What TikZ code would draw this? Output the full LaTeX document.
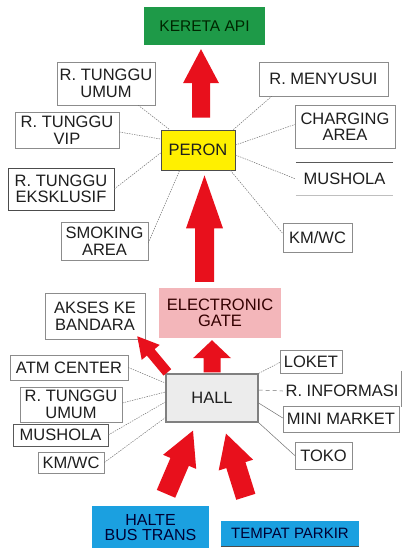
\documentclass[tikz,border=0pt]{standalone}
\usepackage{fontspec}
\setmainfont{Liberation Sans}
\usetikzlibrary{calc}
\definecolor{kgreen}{RGB}{30,154,72}
\definecolor{kyellow}{RGB}{255,240,0}
\definecolor{kpink}{RGB}{243,182,186}
\definecolor{kblue}{RGB}{27,160,224}
\definecolor{kred}{RGB}{232,16,28}
\definecolor{khall}{RGB}{236,236,236}
\definecolor{ktext}{RGB}{30,30,30}
\tikzset{
  box/.style={rectangle, inner sep=0pt, align=center, text=ktext,
    font=\fontsize{16.5}{16.5}\selectfont},
  sat/.style={box, draw=black!45, line width=0.5pt},
  link/.style={draw=black!55, line width=0.5pt, dash pattern=on 1.4pt off 1.1pt},
}
\newcommand\blockarr[5]{%
  \path coordinate (hb) at ($(#2)!#5pt!(#1)$);
  \fill[kred] ($(#1)!#3pt!90:(#2)$) -- ($(hb)!#3pt!90:(#2)$) -- ($(hb)!#4pt!90:(#2)$)
    -- (#2) -- ($(hb)!#4pt!-90:(#2)$) -- ($(hb)!#3pt!-90:(#2)$) -- ($(#1)!#3pt!-90:(#2)$) -- cycle;
}
\begin{document}
\begin{tikzpicture}[x=1pt,y=-1pt]
\clip (0,0) rectangle (405,548);
\fill[white] (0,0) rectangle (405,548);

% main boxes
\node[box, fill=kgreen, text=black!85!green, minimum width=121, minimum height=38,
  font=\fontsize{15.5}{15.5}\selectfont] (kereta) at (204.5,26) {KERETA API};
\node[box, fill=kyellow, draw=black!70, line width=0.8pt, minimum width=74, minimum height=40] (peron) at (198,150) {PERON};
\node[box, fill=kpink, text=black!80!red, minimum width=122, minimum height=50] (egate) at (220,313) {ELECTRONIC\\GATE};
\node[box, fill=khall, draw=black!50, line width=1.2pt, minimum width=92, minimum height=48] (hall) at (212,398) {HALL};
\node[box, fill=kblue, text=black!80!blue, minimum width=117, minimum height=43,
  font=\fontsize{16}{15}\selectfont] (halte) at (150.5,527.5) {HALTE\\BUS TRANS};
\node[box, fill=kblue, text=black!80!blue, minimum width=138, minimum height=25,
  font=\fontsize{15}{15}\selectfont] (parkir) at (290,533.5) {TEMPAT PARKIR};
\draw[black!70, line width=0.8pt] (parkir.south west) -- (parkir.south east);

% peron satellites
\node[sat, minimum width=98, minimum height=43] (rtu1) at (106,83.5) {R. TUNGGU\\UMUM};
\node[sat, minimum width=129, minimum height=34] (menyusui) at (323.5,79) {R. MENYUSUI};
\node[sat, minimum width=104, minimum height=36] (vip) at (67,130) {R. TUNGGU\\VIP};
\node[sat, minimum width=100, minimum height=43] (charging) at (345,126.5) {CHARGING\\AREA};
\node[box, minimum width=97, minimum height=32] (mushola1) at (344.5,179) {MUSHOLA};
\draw[black!65, line width=0.8pt] (mushola1.north west) -- (mushola1.north east);
\draw[black!25, line width=0.5pt] (mushola1.south west) -- (mushola1.south east);
\node[sat, draw=black!70, minimum width=106, minimum height=42] (ekskl) at (61,189) {R. TUNGGU\\EKSKLUSIF};
\node[sat, minimum width=87, minimum height=38] (smoking) at (104.5,241) {SMOKING\\AREA};
\node[sat, minimum width=69, minimum height=29] (kmwc1) at (317.5,237.5) {KM/WC};

% hall satellites
\node[sat, minimum width=100, minimum height=46] (akses) at (95,316) {AKSES KE\\BANDARA};
\node[sat, minimum width=118, minimum height=25] (atm) at (69,367.5) {ATM CENTER};
\node[sat, minimum width=102, minimum height=35] (rtu2) at (71,404.5) {R. TUNGGU\\UMUM};
\node[sat, draw=black!65, minimum width=95, minimum height=22] (mushola2) at (60.5,435) {MUSHOLA};
\node[sat, minimum width=66, minimum height=21] (kmwc2) at (71,462.5) {KM/WC};
\node[sat, minimum width=62, minimum height=23] (loket) at (311,361.5) {LOKET};
\node[box, minimum width=118, minimum height=24] (rinfo) at (342,391) {R. INFORMASI};
\draw[black!45, line width=0.5pt] ($(rinfo.north east)+(0,-8)$) -- ($(rinfo.south east)+(0,4)$);
\node[sat, minimum width=116, minimum height=26] (minimarket) at (341,419) {MINI MARKET};
\node[sat, minimum width=57, minimum height=27] (toko) at (323.5,455.5) {TOKO};

% links around peron
\draw[link] ($(rtu1.south east)+(-17,0)$) -- ($(peron.north west)+(9,0)$);
\draw[link] ($(peron.north east)+(-2,0)$) -- ($(menyusui.south west)+(13,0)$);
\draw[link] ($(vip.east)+(0,2)$) -- ($(peron.west)+(0,-11)$);
\draw[link] ($(peron.east)+(0,-5)$) -- ($(charging.west)+(0,-2)$);
\draw[link] ($(peron.east)+(0,5)$) -- (mushola1.west);
\draw[link] (ekskl.east) -- ($(peron.west)+(0,3)$);
\draw[link] ($(smoking.east)+(0,2)$) -- ($(peron.south west)+(19,0)$);
\draw[link] ($(peron.south east)+(-5,0)$) -- ($(kmwc1.west)+(0,-4)$);

% links around hall
\draw[link] (atm.east) -- ($(hall.west)+(0,-15)$);
\draw[link] ($(rtu2.east)+(0,-1.5)$) -- ($(hall.west)+(0,-6)$);
\draw[link] (mushola2.east) -- ($(hall.west)+(0,4)$);
\draw[link] (kmwc2.east) -- ($(hall.south west)+(0,-5)$);
\draw[link] (hall.north east) -- ($(loket.west)+(0,1)$);
\draw[link, dash pattern=on 4pt off 3pt] ($(hall.east)+(0,-8)$) -- (rinfo.west);
\draw[link, dash pattern=] ($(hall.east)+(0,5)$) -- ($(minimarket.west)+(0,-1)$);
\draw[link, dash pattern=] (hall.south east) -- (toko.west);

% arrow end points
\coordinate (a1b) at ($(peron.north)+(3,-12)$);
\coordinate (a1t) at ($(kereta.south)+(-3.5,4)$);
\coordinate (a2b) at ($(egate.north)+(-15.5,-6)$);
\coordinate (a2t) at ($(peron.south)+(6.5,5)$);
\coordinate (a3b) at ($(hall.north)+(0,-1)$);
\coordinate (a3t) at ($(egate.south)+(-8,2)$);
\coordinate (a4b) at ($(hall.north west)+(2,-1)$);
\coordinate (a4t) at ($(akses.south east)+(-8,-3)$);
\coordinate (a5b) at ($(halte.north)+(15.5,-12)$);
\coordinate (a5t) at ($(hall.south)+(-19,8)$);
\coordinate (a6b) at ($(parkir.north west)+(25,-24)$);
\coordinate (a6t) at ($(hall.south)+(14,11)$);

\blockarr{a1b}{a1t}{9}{18}{34}
\blockarr{a2b}{a2t}{9.5}{18.5}{53}
\blockarr{a3b}{a3t}{8.5}{19}{18}
\blockarr{a4b}{a4t}{5}{11.7}{21}
\blockarr{a5b}{a5t}{10}{18}{34}
\blockarr{a6b}{a6t}{10}{18}{33}
\end{tikzpicture}
\end{document}
